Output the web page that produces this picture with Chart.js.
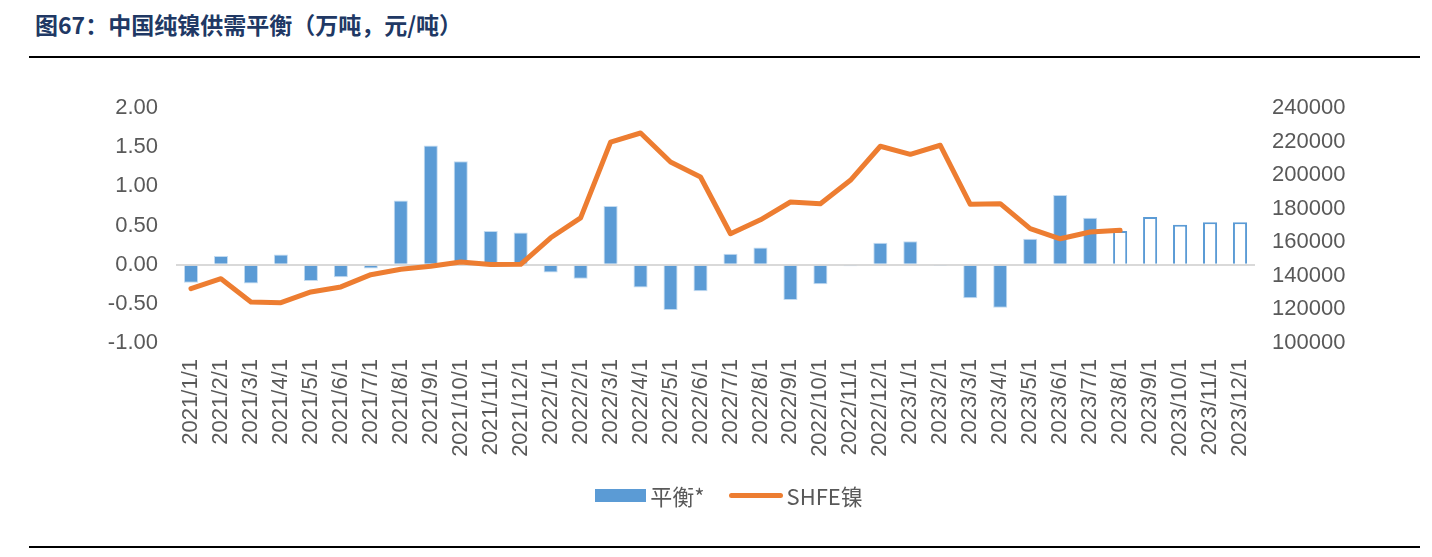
<!DOCTYPE html>
<html>
<head>
<meta charset="utf-8">
<script src="https://cdn.jsdelivr.net/npm/chart.js@4.4.1/dist/chart.umd.min.js"></script>
<style>
  html, body { margin: 0; padding: 0; background: #fff; }
  #wrap { position: relative; width: 1432px; height: 557px; overflow: hidden; }
  #title {
    position: absolute; left: 35px; top: 7px;
    font: bold 23px "Noto Sans CJK SC", sans-serif; color: #203864;
  }
  .rule { position: absolute; left: 29px; width: 1391px; height: 2px; background: #000; }
  #chartBox { position: absolute; left: 0; top: 2px; width: 1432px; height: 557px; }
  #legend {
    position: absolute; top: 479px; left: 13px; width: 1432px;
    display: flex; justify-content: center; align-items: center;
    font: 22px "Noto Sans CJK SC", sans-serif; color: #595959;
  }
  .lg-item { display: flex; align-items: center; margin: 0 12px; }
  .lg-bar { width: 51px; height: 13px; background: #5b9bd5; margin-right: 4px; }
  .lg-line { width: 54px; height: 5px; border-radius: 3px; background: #ed7d31; margin-right: 4px; }
</style>
</head>
<body>
<div id="wrap">
  <div id="title">图67：中国纯镍供需平衡（万吨，元/吨）</div>
  <div class="rule" style="top:56px"></div>
  <div id="chartBox"><canvas id="nickelChart" width="1432" height="557"></canvas></div>
  <div id="legend">
    <div class="lg-item"><span class="lg-bar"></span>平衡*</div>
    <div class="lg-item"><span class="lg-line"></span>SHFE镍</div>
  </div>
  <div class="rule" style="top:546px"></div>
</div>
<script>
// months 2021/1 .. 2023/12
const months = [
  '2021/1/1','2021/2/1','2021/3/1','2021/4/1','2021/5/1','2021/6/1',
  '2021/7/1','2021/8/1','2021/9/1','2021/10/1','2021/11/1','2021/12/1',
  '2022/1/1','2022/2/1','2022/3/1','2022/4/1','2022/5/1','2022/6/1',
  '2022/7/1','2022/8/1','2022/9/1','2022/10/1','2022/11/1','2022/12/1',
  '2023/1/1','2023/2/1','2023/3/1','2023/4/1','2023/5/1','2023/6/1',
  '2023/7/1','2023/8/1','2023/9/1','2023/10/1','2023/11/1','2023/12/1'
];

// supply-demand balance (万吨), from 2023/8 on it is a forecast (hollow bars)
const balance = [
  -0.23, 0.11, -0.24, 0.13, -0.21, -0.16, -0.05, 0.82, 1.52, 1.32, 0.43, 0.41,
  -0.10, -0.18, 0.75, -0.29, -0.58, -0.34, 0.14, 0.22, -0.45, -0.25, -0.02, 0.28,
  0.30, -0.01, -0.43, -0.55, 0.33, 0.89, 0.60, 0.43, 0.61, 0.51, 0.54, 0.54
];
const forecastFrom = 31; // index of 2023/8

// SHFE nickel price (元/吨)
const shfeNickel = [
  132400, 138300, 124400, 124000, 130400, 133400, 140700, 143900, 145700, 148200, 146700, 146900,
  162700, 174500, 219700, 225100, 207800, 198900, 165100, 173400, 184000, 183000, 196900, 217200,
  212400, 217800, 182600, 183000, 168100, 162100, 166100, 167100, null, null, null, null
];

const leftTicks = [-1, -0.5, 0, 0.5, 1, 1.5, 2];
const rightTicks = [100000, 120000, 140000, 160000, 180000, 200000, 220000, 240000];

const barBlue = '#5b9bd5';
const lineOrange = '#ed7d31';
const tickFont = { family: '"Liberation Sans", "Noto Sans", sans-serif', size: 22 };

const barFill = balance.map((v, i) => i >= forecastFrom ? '#ffffff' : barBlue);
const barBorder = balance.map((v, i) => i >= forecastFrom ? barBlue : 'rgba(189,215,238,0.9)');
const barBorderW = balance.map((v, i) => i >= forecastFrom ? 2 : 1);

const chart = new Chart(document.getElementById('nickelChart'), {
  type: 'bar',
  data: {
    labels: months,
    datasets: [
      {
        type: 'line',
        label: 'SHFE镍',
        data: shfeNickel,
        yAxisID: 'yR',
        borderColor: lineOrange,
        backgroundColor: lineOrange,
        borderWidth: 5,
        pointRadius: 0,
        tension: 0,
        borderCapStyle: 'round',
        borderJoinStyle: 'round',
        order: 0
      },
      {
        type: 'bar',
        label: '平衡*',
        data: balance,
        yAxisID: 'yL',
        backgroundColor: barFill,
        borderColor: barBorder,
        borderWidth: barBorderW,
        categoryPercentage: 1,
        barPercentage: 0.47,
        order: 1
      }
    ]
  },
  options: {
    responsive: false,
    animation: false,
    layout: { padding: { top: 106, left: 0, right: 0, bottom: 0 } },
    scales: {
      x: {
        grid: { display: false },
        border: { display: false },
        ticks: {
          font: tickFont, color: '#595959',
          maxRotation: 90, minRotation: 90, autoSkip: false, padding: 8
        },
        afterFit: s => { s.height = 557 - 106 - 235; }
      },
      yL: {
        position: 'left',
        min: -1, max: 2,
        afterBuildTicks: s => { s.ticks = leftTicks.map(v => ({ value: v })); },
        grid: {
          drawTicks: false,
          color: c => c.tick && c.tick.value === 0 ? '#d9d9d9' : 'rgba(0,0,0,0)',
          lineWidth: 2
        },
        border: { display: false },
        ticks: {
          font: tickFont, color: '#595959', padding: 18,
          callback: v => v.toFixed(2)
        },
        afterFit: s => { s.width = 176; }
      },
      yR: {
        position: 'right',
        min: 100000, max: 240000,
        afterBuildTicks: s => { s.ticks = rightTicks.map(v => ({ value: v })); },
        grid: { display: false, drawTicks: false },
        border: { display: false },
        ticks: {
          font: tickFont, color: '#595959', padding: 17,
          callback: v => String(v)
        },
        afterFit: s => { s.width = 1432 - 1255; }
      }
    },
    plugins: {
      legend: { display: false },
      tooltip: { enabled: false }
    }
  }
});
</script>
</body>
</html>
